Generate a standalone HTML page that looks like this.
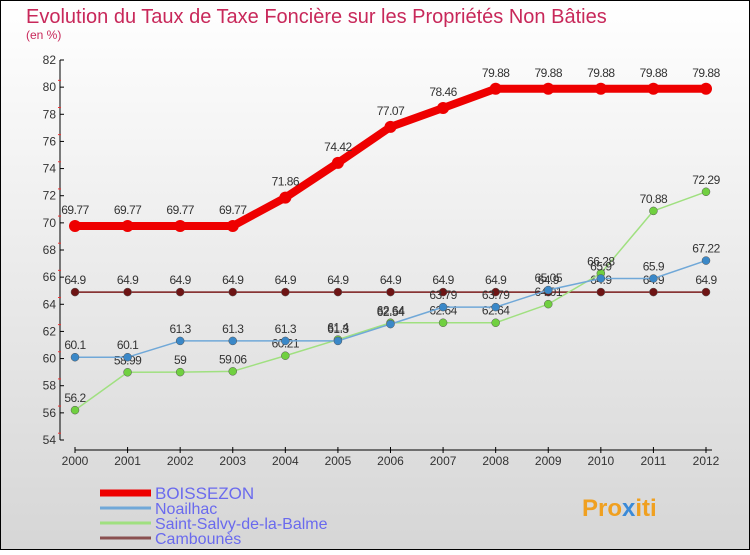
<!DOCTYPE html>
<html><head><meta charset="utf-8"><style>
body{margin:0;}
#c{width:750px;height:550px;position:relative;font-family:"Liberation Sans",sans-serif;}
</style></head><body>
<div id="c">
<svg id="s" width="750" height="550" xmlns="http://www.w3.org/2000/svg">
<defs><linearGradient id="bg" x1="0" y1="0" x2="0" y2="1"><stop offset="0" stop-color="#ffffff"/><stop offset="1" stop-color="#d6d6d6"/></linearGradient></defs>
<rect x="0.5" y="0.5" width="749" height="549" fill="url(#bg)" stroke="#000"/>
<text x="26" y="23" font-size="20" fill="#c8285a">Evolution du Taux de Taxe Foncière sur les Propriétés Non Bâties</text>
<text x="26" y="39" font-size="12" fill="#c8285a">(en %)</text>
<g id="axes"></g><g id="series"></g><g id="legend"></g>
<text x="582" y="516" font-size="24" font-weight="bold" fill="#f0a020">Pro<tspan fill="#3a8ad8">x</tspan>iti</text>
</svg></div>
<script>
const years=[2000,2001,2002,2003,2004,2005,2006,2007,2008,2009,2010,2011,2012];
const yTicks=[54,56,58,60,62,64,66,68,70,72,74,76,78,80,82];
const boissezon=[69.77,69.77,69.77,69.77,71.86,74.42,77.07,78.46,79.88,79.88,79.88,79.88,79.88];
const noailhac=[60.1,60.1,61.3,61.3,61.3,61.3,62.54,63.79,63.79,65.05,65.9,65.9,67.22];
const salvy=[56.2,58.99,59,59.06,60.21,61.4,62.64,62.64,62.64,64.01,66.28,70.88,72.29];
const cambounes=[64.9,64.9,64.9,64.9,64.9,64.9,64.9,64.9,64.9,64.9,64.9,64.9,64.9];
const names=["BOISSEZON","Noailhac","Saint-Salvy-de-la-Balme","Cambounès"];
const NS="http://www.w3.org/2000/svg";
const xS=i=>75+i*(706-75)/(years.length-1);
const yS=v=>440-(v-54)*(380/28);
function mk(t,a,p,txt){const e=document.createElementNS(NS,t);for(const k in a)e.setAttribute(k,a[k]);if(txt!==undefined)e.textContent=txt;p.appendChild(e);return e;}
const ax=document.getElementById('axes');
const yl=mk('line',{x1:60,y1:60,x2:60,y2:440,stroke:'#000'},ax);


const xl=mk('line',{x1:75,y1:450,x2:712,y2:450,stroke:'#000'},ax);


yTicks.forEach(v=>{const y=yS(v);mk('line',{x1:60,y1:y,x2:64,y2:y,stroke:'#000'},ax);
if(v<82)mk('line',{x1:58,y1:y-6.8,x2:61,y2:y-6.8,stroke:'#e33'},ax);
const t=mk('text',{x:56,y:y+4,'font-size':12,fill:'#333','text-anchor':'end'},ax,v);

});
years.forEach((yr,i)=>{const x=xS(i);mk('line',{x1:x,y1:447,x2:x,y2:453,stroke:'#000'},ax);
const t=mk('text',{x:x,y:465,'font-size':12,fill:'#333','text-anchor':'middle'},ax,yr);

});
const sg=document.getElementById('series');
function series(data,color,w,r,dot,name,lblOff){
const g=mk('g',{},sg);


const pl=mk('polyline',{points:data.map((v,i)=>xS(i)+','+yS(v)).join(' '),fill:'none',stroke:color,'stroke-width':w,'stroke-linejoin':'round'},g);


data.forEach((v,i)=>{const c=mk('circle',{cx:xS(i),cy:yS(v),r:r,fill:dot,stroke:w>3?'none':'#555','stroke-width':0.5},g);


const t=mk('text',{x:xS(i),y:yS(v)+lblOff,'font-size':12,fill:'#333','text-anchor':'middle','letter-spacing':'-0.5'},g,String(v));

});}
series(cambounes,'#7a1a1a',1.5,4,'#6e1414','cambounes',-8);
series(salvy,'#a0e080',1.5,4,'#70d040','saint-salvy',-8);
series(noailhac,'#70a8d8',1.5,4,'#3a88c8','noailhac',-8);
series(boissezon,'#ee0000',8,6,'#ee0000','boissezon',-12);
const lg=document.getElementById('legend');
const lc=['#ee0000','#70a8d8','#a0e080','#8a5050'],lw=[7,3,3,3],ly=[493,508,523,538];
names.forEach((n,i)=>{const g=mk('g',{},lg);


mk('line',{x1:100,y1:ly[i],x2:151,y2:ly[i],stroke:lc[i],'stroke-width':lw[i]},g);
mk('text',{x:155,y:ly[i]+6,'font-size':i==0?17:16,fill:'#6a6aee'},g,n);});
</script>
</body></html>
